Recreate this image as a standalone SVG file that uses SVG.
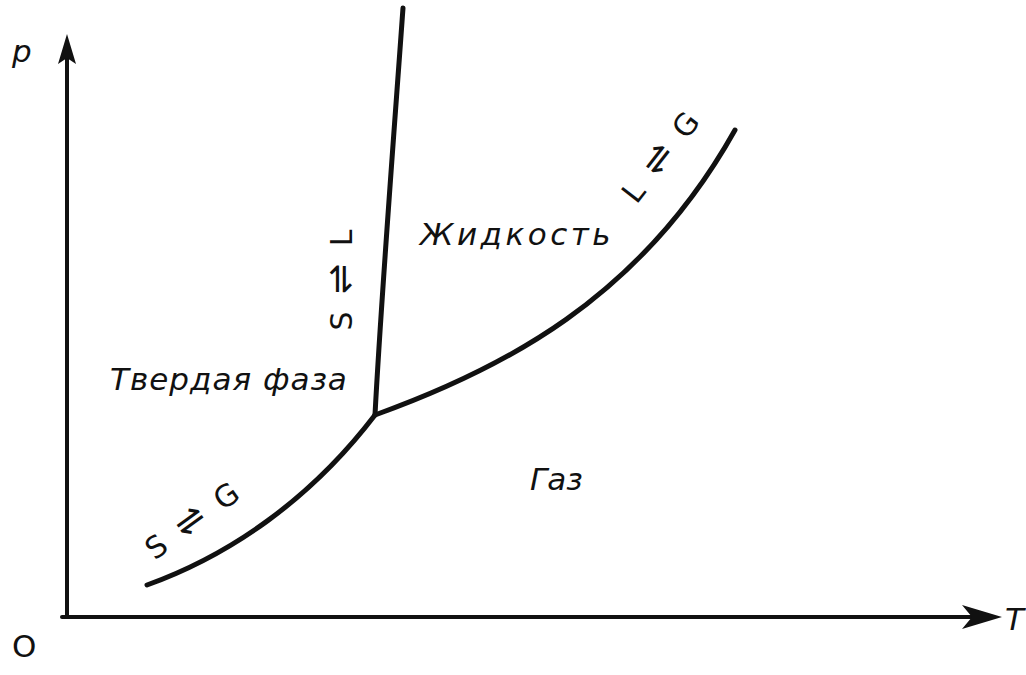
<svg xmlns="http://www.w3.org/2000/svg" width="1026" height="675" viewBox="0 0 1026 675">
<style>
.ln{fill:none;stroke:#111;stroke-linecap:round}
.t{font-family:"DejaVu Sans","Liberation Sans",sans-serif;fill:#111;font-size:31px}
.i{font-style:italic}
.r{font-size:30px;letter-spacing:4px}
.h{font-size:36px}
</style>
<rect width="1026" height="675" fill="#fff"/>
<g id="axes">
<path class="ln" d="M67,617 V48" stroke-width="4"/>
<path d="M67,34 L58,64 L67,58 L76,64 Z" fill="#111"/>
<path class="ln" d="M62,617 H985" stroke-width="4"/>
<path d="M1002,617 L962,605 L972,617 L962,629 Z" fill="#111"/>
<text class="t i" x="12" y="62" font-size="30">p</text>
<text class="t" x="12" y="657" font-size="27">O</text>
<text class="t i" x="1005" y="630" font-size="32">T</text>
</g>
<g id="connectors">
<path class="ln" stroke-width="5" d="M147,585 C230,555 310,500 375,415"/>
<path class="ln" stroke-width="5" d="M375,415 C381,300 395,120 403,8"/>
<path class="ln" stroke-width="5" d="M375,415 C500,370 640,300 735,130"/>
</g>
<g id="labels">
<text class="t i" x="110" y="390" letter-spacing="1">Твердая фаза</text>
<text class="t i" x="420" y="245" letter-spacing="3.5">Жидкость</text>
<text class="t i" x="530" y="490">Газ</text>
<text class="t r" transform="translate(352,278) rotate(-90)" text-anchor="middle">S <tspan class="h">⇌</tspan> L</text>
<text class="t r" transform="translate(670,162) rotate(-52)" text-anchor="middle">L <tspan class="h">⇌</tspan> G</text>
<text class="t r" transform="translate(200,528) rotate(-36)" text-anchor="middle">S <tspan class="h">⇌</tspan> G</text>
</g>
</svg>
